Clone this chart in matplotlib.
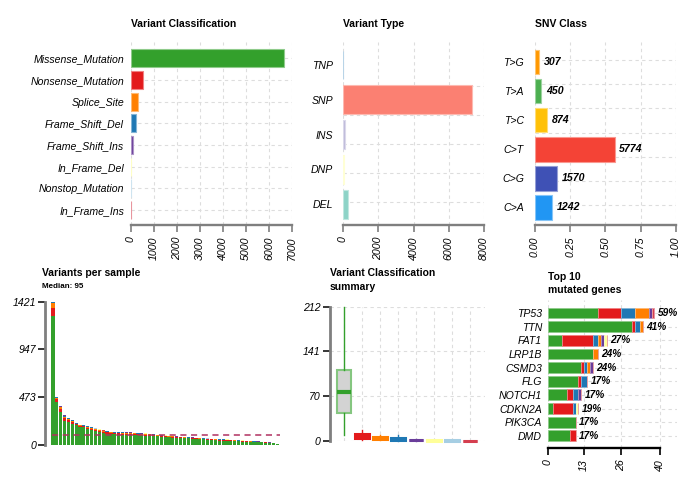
import numpy as np
import matplotlib
matplotlib.use('Agg')
import matplotlib.pyplot as plt
from matplotlib import cbook
from matplotlib.colors import to_rgba

plt.rcParams['font.family'] = ['Liberation Sans', 'DejaVu Sans']

# ---------------- data ----------------
vc_classes = ['Missense_Mutation', 'Nonsense_Mutation', 'Splice_Site', 'Frame_Shift_Del',
              'Frame_Shift_Ins', 'In_Frame_Del', 'Nonstop_Mutation', 'In_Frame_Ins']
vc_counts = [6650, 520, 290, 200, 90, 15, 10, 3]

vt_types = ['DEL', 'DNP', 'INS', 'SNP', 'TNP']
vt_counts = [290, 60, 95, 7320, 0]

snv_classes = ['C>A', 'C>G', 'C>T', 'T>C', 'T>A', 'T>G']
snv_counts = [1242, 1570, 5774, 874, 450, 307]

# per-sample counts (59 samples)
s_missense = [1283, 430, 331, 240, 226, 212, 194, 177, 174, 157,
              148, 140, 130, 120, 112, 111, 106, 104, 103, 102,
              101, 99, 96, 95, 93, 91, 88, 85, 82, 78,
              76, 74, 71, 69, 66, 65, 63, 61, 58, 55,
              52, 50, 47, 44, 44, 42, 40, 38, 36, 34,
              32, 30, 28, 27, 25, 22, 19, 15, 10]
s_nonsense = [76, 25, 30, 25, 20, 17, 12, 12, 11, 14,
              14, 11, 10, 11, 12, 10, 10, 11, 10, 11,
              10, 10, 10, 9, 10, 9, 9, 8, 8, 8,
              7, 7, 7, 6, 6, 6, 6, 5, 5, 6,
              6, 6, 6, 6, 6, 6, 5, 5, 5, 5,
              4, 4, 4, 4, 3, 3, 3, 2, 1]
s_splice = [50, 10, 12, 14, 12, 9, 7, 6, 7, 8,
            8, 6, 6, 5, 7, 6, 7, 6, 6, 5,
            6, 6, 5, 6, 5, 5, 5, 5, 4, 4,
            4, 4, 3, 4, 3, 3, 3, 3, 3, 3,
            3, 3, 3, 3, 3, 3, 3, 3, 2, 2,
            2, 2, 2, 2, 2, 2, 1, 1, 1]
s_fsdel = [6, 8, 8, 12, 9, 7, 5, 5, 5, 7,
           6, 4, 5, 5, 5, 4, 5, 4, 5, 5,
           4, 4, 5, 4, 4, 4, 3, 3, 3, 3,
           3, 2, 3, 2, 3, 2, 2, 2, 2, 2,
           2, 2, 2, 2, 2, 2, 2, 2, 2, 2,
           2, 2, 2, 1, 1, 1, 1, 1, 0]
s_fsins = [4, 4, 4, 5, 4, 3, 2, 2, 3, 3,
           3, 2, 2, 2, 2, 2, 2, 3, 2, 2,
           3, 2, 2, 2, 2, 2, 2, 2, 2, 1,
           1, 1, 1, 1, 1, 1, 1, 1, 1, 1,
           1, 1, 1, 1, 1, 1, 1, 1, 1, 1,
           1, 1, 1, 1, 1, 1, 1, 1, 0]
s_ifdel = [1, 1, 1, 1, 1, 1, 0, 1, 0, 0,
           1, 0, 1, 0, 0, 0, 1, 0, 1, 0,
           1, 0, 1, 0, 1, 1, 0, 1, 0, 1,
           0, 1, 0, 1, 0, 1, 0, 1, 0, 1,
           0, 1, 0, 1, 0, 1, 0, 1, 0, 1,
           0, 1, 0, 0, 0, 0, 0, 0, 0]
s_nonstop = [1, 1, 1, 1, 0, 0, 0, 0, 0, 1,
             0, 1, 0, 0, 0, 0, 0, 0, 0, 1,
             0, 1, 0, 0, 0, 0, 1, 0, 1, 0,
             0, 0, 1, 0, 1, 0, 0, 0, 1, 0,
             1, 0, 0, 1, 1, 0, 1, 0, 0, 0,
             1, 0, 0, 0, 0, 0, 0, 0, 0]
s_ifins = [0, 0, 0, 1, 0, 0, 0, 0, 0, 0,
           0, 0, 0, 1, 0, 0, 0, 1, 0, 0,
           0, 0, 0, 1, 0, 0, 0, 0, 0, 0,
           1, 0, 0, 0, 0, 0, 1, 0, 0, 0,
           0, 0, 1, 0, 0, 0, 0, 0, 1, 0,
           0, 0, 0, 0, 0, 0, 0, 0, 0]

genes = ['TP53', 'TTN', 'FAT1', 'LRP1B', 'CSMD3', 'FLG', 'NOTCH1', 'CDKN2A', 'PIK3CA', 'DMD']
gene_pct = [59, 41, 27, 24, 24, 17, 17, 19, 17, 17]
g_missense = [18, 30, 5, 16, 12, 11, 7, 2, 10, 8]
g_nonsense = [8, 1, 11, 0, 1, 1, 2, 7, 0, 2]
g_fsdel = [5, 2, 2, 0, 1, 2, 2, 1, 0, 0]
g_splice = [5, 1, 1, 2, 1, 0, 0, 0, 0, 0]
g_fsins = [1, 0, 1, 0, 1, 0, 1, 0, 0, 0]
g_ifdel = [0, 0, 1, 0, 0, 0, 0, 1, 0, 0]
g_ifins = [1, 0, 0, 0, 0, 0, 0, 0, 0, 0]
gene_ticks = [0, 13, 26, 40]

# ---------------- styles ----------------
vc_colors = {'Missense_Mutation': '#33A02C', 'Nonsense_Mutation': '#E31A1C',
             'Splice_Site': '#FF7F00', 'Frame_Shift_Del': '#1F78B4',
             'Frame_Shift_Ins': '#6A3D9A', 'In_Frame_Del': '#FFFF99',
             'Nonstop_Mutation': '#A6CEE3', 'In_Frame_Ins': '#D53E4F'}
vt_colors = {'DEL': '#8DD3C7', 'DNP': '#FFFFB3', 'INS': '#BEBADA', 'SNP': '#FB8072', 'TNP': '#80B1D3'}
snv_colors = {'C>A': '#2196F3', 'C>G': '#3F51B5', 'C>T': '#F44336',
              'T>C': '#FFC107', 'T>A': '#4CAF50', 'T>G': '#FF9800'}

GRID = '#DDDDDD'
AXG = '#7F7F7F'
FS = 7.6

W, H = 693, 479
fig = plt.figure(figsize=(W / 100, H / 100), dpi=100)


def px_axes(l, t, r, b):
    return fig.add_axes([l / W, 1 - b / H, (r - l) / W, (b - t) / H])


def light(c, a=0.55):
    r, g, b, _ = to_rgba(c)
    return (r + (1 - r) * (1 - a), g + (1 - g) * (1 - a), b + (1 - b) * (1 - a), 1)


def ftext(x, y, s, **kw):
    fig.text(x / W, 1 - y / H, s, **kw)


def style_bottom_axis(ax, lo, hi, color=AXG):
    for s in ['top', 'right', 'left']:
        ax.spines[s].set_visible(False)
    ax.spines['bottom'].set_color(color)
    ax.spines['bottom'].set_linewidth(1.7)
    ax.spines['bottom'].set_bounds(lo, hi)
    ax.tick_params(axis='x', length=5, width=1.2, color=color, labelrotation=90,
                   labelsize=FS, pad=3)
    ax.tick_params(axis='y', length=0, labelsize=FS)
    for t in ax.get_xticklabels() + ax.get_yticklabels():
        t.set_fontstyle('italic')


def hgrid_px(ax, top, bottom, pxs):
    for p in pxs:
        f = (bottom - p) / (bottom - top)
        ax.plot([0, 1], [f, f], transform=ax.transAxes, color=GRID, lw=0.8,
                ls=(0, (3, 3)), zorder=0)


# ---------------- Panel 1: Variant Classification ----------------
ax1 = px_axes(131, 42, 292, 225)
pos1 = np.arange(len(vc_classes))[::-1]
cols1 = [vc_colors[c] for c in vc_classes]
ax1.barh(pos1, vc_counts, height=0.83, color=cols1, edgecolor=[light(c) for c in cols1],
         linewidth=0.8, zorder=3)
ax1.set_xlim(0, 7000)
ax1.set_ylim(-0.69, 7.75)
ax1.set_xticks(np.arange(0, 7001, 1000))
ax1.set_yticks(pos1)
ax1.set_yticklabels(vc_classes)
ax1.grid(True, ls=(0, (3, 3)), color=GRID, lw=0.8)
ax1.set_axisbelow(True)
style_bottom_axis(ax1, 0, 7000)
ax1.tick_params(axis='y', pad=5)
ftext(131, 24, 'Variant Classification', fontweight='bold', fontsize=7.5, va='center')

# ---------------- Panel 2: Variant Type ----------------
ax2 = px_axes(343, 42, 484, 225)
pos2 = np.arange(len(vt_types))
cols2 = [vt_colors[t] for t in vt_types]
ax2.barh(pos2, vt_counts, height=0.83, color=cols2, edgecolor=[light(c) for c in cols2],
         linewidth=0.8, zorder=3)
ax2.set_xlim(0, 8000)
ax2.set_ylim(-0.60, 4.66)
ax2.set_xticks(np.arange(0, 8001, 2000))
ax2.set_yticks(pos2)
ax2.set_yticklabels(vt_types)
ax2.grid(True, axis='x', ls=(0, (3, 3)), color=GRID, lw=0.8)
ax2.set_axisbelow(True)
hgrid_px(ax2, 42, 225, [86, 115, 144, 173, 202])
style_bottom_axis(ax2, 0, 8000)
ax2.tick_params(axis='y', pad=7)
ftext(343, 24, 'Variant Type', fontweight='bold', fontsize=7.5, va='center')

# ---------------- Panel 3: SNV Class ----------------
ax3 = px_axes(535, 42, 675.7, 225)
pos3 = np.arange(len(snv_classes))
snv_total = float(np.sum(snv_counts))
snv_frac = [c / snv_total for c in snv_counts]
cols3 = [snv_colors[c] for c in snv_classes]
ax3.barh(pos3, snv_frac, height=0.85, color=cols3, edgecolor=[light(c) for c in cols3],
         linewidth=0.8, zorder=3)
for y, f, c in zip(pos3, snv_frac, snv_counts):
    ax3.annotate(str(c), (f, y), xytext=(3.5, 0), textcoords='offset points',
                 ha='left', va='center', fontweight='bold', fontstyle='italic', fontsize=FS)
ax3.set_xlim(0, 1)
ax3.set_ylim(-0.61, 5.69)
xt3 = [0, 0.25, 0.5, 0.75, 1.0]
ax3.set_xticks(xt3)
ax3.set_xticklabels([f'{v:.2f}' for v in xt3])
ax3.set_yticks(pos3)
ax3.set_yticklabels(snv_classes)
ax3.grid(True, axis='x', ls=(0, (3, 3)), color=GRID, lw=0.8)
ax3.set_axisbelow(True)
hgrid_px(ax3, 42, 225, [60, 84.3, 108.5, 132.7, 157, 181, 205])
style_bottom_axis(ax3, 0, 1)
ax3.tick_params(axis='y', pad=8)
ftext(535, 24, 'SNV Class', fontweight='bold', fontsize=7.5, va='center')

# ---------------- Panel 4: Variants per sample ----------------
per_sample = [s_missense, s_nonsense, s_splice, s_fsdel, s_fsins, s_ifdel, s_nonstop, s_ifins]
ps = np.array(per_sample, dtype=float)
totals = ps.sum(axis=0)
n = ps.shape[1]
ax4 = px_axes(45, 301.7, 285, 445)
xs = np.arange(n)
bottom = np.zeros(n)
for cls, vals in zip(vc_classes, ps):
    ax4.bar(xs, vals, bottom=bottom, width=0.82, color=vc_colors[cls], linewidth=0, zorder=3)
    bottom += vals
ymax4 = totals.max()
med = np.median(totals)
ax4.hlines(med, -0.2, n - 1 + 0.8, colors='#B03060', linestyles=(0, (4, 3)), lw=1.1, zorder=4)
ax4.set_xlim(-2.05, n + 1.0)
ax4.set_ylim(0, ymax4)
yt4 = np.linspace(0, ymax4, 4)
ax4.set_yticks(yt4)
ax4.set_yticklabels([str(int(v)) for v in yt4])
for s in ['top', 'right', 'bottom']:
    ax4.spines[s].set_visible(False)
ax4.spines['left'].set_color(AXG)
ax4.spines['left'].set_linewidth(2)
ax4.spines['left'].set_bounds(0, ymax4)
ax4.set_xticks([])
ax4.tick_params(axis='y', length=5, width=1.1, color='black', labelsize=FS, pad=1)
for t in ax4.get_yticklabels():
    t.set_fontstyle('italic')
ftext(42, 273, 'Variants per sample', fontweight='bold', fontsize=7.5, va='center')
ftext(42, 287, f'Median: {int(med)}', fontweight='bold', fontsize=5.8, va='center')

# ---------------- Panel 5: Variant Classification summary ----------------
ax5 = px_axes(330, 306.7, 485, 441)
bpos = np.arange(1, len(vc_classes) + 1)
bp = ax5.boxplot([list(v) for v in ps], positions=bpos, widths=0.8, patch_artist=True,
                 showfliers=False, showcaps=False, whis=1.5)
for i, cls in enumerate(vc_classes):
    c = vc_colors[cls]
    box = bp['boxes'][i]
    if i == 0:
        box.set_facecolor('#D3D3D3')
        box.set_edgecolor(light(c, 0.6))
        box.set_linewidth(1.5)
        bp['medians'][i].set_color(c)
        bp['medians'][i].set_linewidth(3)
    else:
        box.set_facecolor(c)
        box.set_edgecolor(c)
        box.set_linewidth(2.2)
        bp['medians'][i].set_color(c)
        bp['medians'][i].set_linewidth(2)
    for wsk in bp['whiskers'][2 * i:2 * i + 2]:
        wsk.set_color(c)
        wsk.set_linewidth(1)
for art in bp['boxes'] + bp['medians'] + bp['whiskers']:
    art.set_clip_on(False)
    art.set_zorder(3)
stats = cbook.boxplot_stats(ps[0], whis=1.5)
ymax5 = stats[0]['whishi']
ax5.set_ylim(0, ymax5)
ax5.set_xlim(0.222, 8.83)
yt5 = np.linspace(0, ymax5, 4)
ax5.set_yticks(yt5)
ax5.set_yticklabels([str(int(v)) for v in yt5])
ax5.set_xticks(bpos)
ax5.set_xticklabels([''] * len(bpos))
ax5.grid(True, ls=(0, (3, 3)), color=GRID, lw=0.8)
ax5.set_axisbelow(True)
for s in ['top', 'right', 'bottom']:
    ax5.spines[s].set_visible(False)
ax5.spines['left'].set_color(AXG)
ax5.spines['left'].set_linewidth(2)
ax5.spines['left'].set_bounds(0, ymax5)
ax5.tick_params(axis='x', length=0)
ax5.tick_params(axis='y', length=5, width=1.1, color='black', labelsize=FS, pad=2)
for t in ax5.get_yticklabels():
    t.set_fontstyle('italic')
ftext(330, 273, 'Variant Classification', fontweight='bold', fontsize=7.5, va='center')
ftext(330, 287, 'summary', fontweight='bold', fontsize=7.5, va='center')

# ---------------- Panel 6: Top 10 mutated genes ----------------
ax6 = px_axes(547.5, 300, 677, 447.7)
pos6 = np.arange(len(genes))[::-1]
gstack = [('Missense_Mutation', g_missense), ('Nonsense_Mutation', g_nonsense),
          ('Frame_Shift_Del', g_fsdel), ('Splice_Site', g_splice),
          ('Frame_Shift_Ins', g_fsins), ('In_Frame_Del', g_ifdel), ('In_Frame_Ins', g_ifins)]
left = np.zeros(len(genes))
for cls, vals in gstack:
    v = np.array(vals, dtype=float)
    ax6.barh(pos6, v, left=left, height=0.8, color=vc_colors[cls],
             edgecolor=light(vc_colors[cls]), linewidth=0.6, zorder=3)
    left += v
for y, tot, p in zip(pos6, left, gene_pct):
    ax6.annotate(f'{p}%', (tot, y), xytext=(2.5, 0), textcoords='offset points',
                 ha='left', va='center', fontweight='bold', fontstyle='italic', fontsize=7.3)
ax6.set_xlim(0, 46.04)
ax6.set_ylim(-0.86, 9.95)
ax6.set_xticks(gene_ticks)
ax6.set_yticks(pos6)
ax6.set_yticklabels(genes)
ax6.grid(True, ls=(0, (3, 3)), color=GRID, lw=0.8)
ax6.set_axisbelow(True)
style_bottom_axis(ax6, gene_ticks[0], gene_ticks[-1], color='black')
ax6.tick_params(axis='y', pad=4)
ftext(548, 277, 'Top 10', fontweight='bold', fontsize=7.5, va='center')
ftext(548, 290, 'mutated genes', fontweight='bold', fontsize=7.5, va='center')

fig.savefig('out.png', dpi=100)
